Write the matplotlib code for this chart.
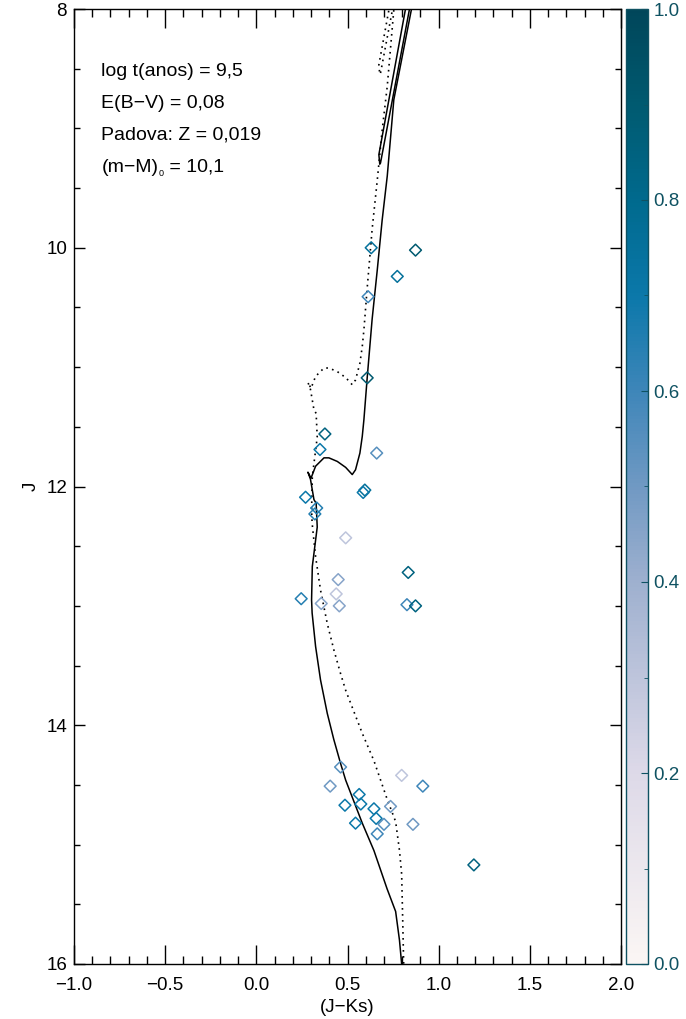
import numpy as np
import matplotlib
matplotlib.use("Agg")
import matplotlib.pyplot as plt
from matplotlib.colors import LinearSegmentedColormap, Normalize
from matplotlib.cm import ScalarMappable
from matplotlib.ticker import MultipleLocator, FormatStrFormatter
from matplotlib.transforms import offset_copy

plt.rcParams['font.family'] = ['Liberation Sans', 'DejaVu Sans']

# --- observed stars: colour (J-Ks), magnitude J, membership probability ---
star_jk = [0.630, 0.873, 0.773, 0.613, 0.608, 0.376, 0.349, 0.660,
           0.270, 0.331, 0.321, 0.595, 0.586, 0.490, 0.833, 0.449,
           0.438, 0.246, 0.356, 0.455, 0.826, 0.873, 0.462, 0.797,
           0.405, 0.913, 0.564, 0.573, 0.486, 0.645, 0.736, 0.657,
           0.700, 0.544, 0.859, 0.663, 1.193]
star_j = [10.00, 10.02, 10.24, 10.41, 11.09, 11.56, 11.69, 11.72,
          12.09, 12.18, 12.23, 12.03, 12.05, 12.43, 12.72, 12.78,
          12.90, 12.94, 12.98, 13.00, 12.99, 13.00, 14.35, 14.42,
          14.51, 14.51, 14.58, 14.66, 14.67, 14.70, 14.68, 14.78,
          14.83, 14.82, 14.83, 14.91, 15.17]
star_prob = [0.75, 0.90, 0.75, 0.60, 0.90, 0.85, 0.70, 0.55,
             0.70, 0.65, 0.65, 0.75, 0.70, 0.30, 0.85, 0.45,
             0.30, 0.65, 0.45, 0.45, 0.60, 0.85, 0.55, 0.30,
             0.50, 0.60, 0.70, 0.70, 0.70, 0.70, 0.50, 0.70,
             0.55, 0.70, 0.50, 0.60, 0.85]

# --- Padova isochrone, log t = 9.5, Z = 0.019 ---
# main sequence -> turn-off -> subgiant branch -> red giant branch
iso_jk = [0.808, 0.803, 0.797, 0.785, 0.764, 0.717, 0.645, 0.581,
          0.490, 0.462, 0.425, 0.389, 0.352, 0.325, 0.306, 0.303,
          0.307, 0.334, 0.328, 0.316, 0.297, 0.283, 0.300, 0.325,
          0.371, 0.398, 0.444, 0.490, 0.526, 0.544, 0.568, 0.581,
          0.590, 0.608, 0.635, 0.663, 0.690, 0.718, 0.754, 0.851,
          0.900]
iso_j = [16.75, 16.40, 16.00, 15.80, 15.56, 15.37, 15.05, 14.82,
         14.46, 14.32, 14.12, 13.90, 13.62, 13.34, 13.06, 12.95,
         12.67, 12.34, 12.14, 12.11, 11.94, 11.88, 11.93, 11.83,
         11.76, 11.76, 11.79, 11.84, 11.90, 11.86, 11.72, 11.58,
         11.44, 11.09, 10.60, 10.19, 9.77, 9.40, 8.76, 8.00,
         7.50]
# core He burning clump and asymptotic giant branch
hb_jk = [0.860, 0.818, 0.672, 0.677, 0.681, 0.840, 0.885]
hb_j = [7.50, 8.00, 9.22, 9.30, 9.29, 8.00, 7.60]

# equal-mass unresolved binaries sit 2.5 log10(2) mag brighter
binary_offset = 2.5 * np.log10(2.0)

annot_lines = ["log t(anos) = 9,5",
               "E(B\u2212V) = 0,08",
               "Padova: Z = 0,019",
               "(m\u2212M)"]
dist_subscript = "0"
dist_value = " = 10,1"

# membership colour scale
cmap = LinearSegmentedColormap.from_list(
    "memb",
    [(0.00, "#fbf6f4"), (0.20, "#ddd9e8"), (0.40, "#9eb0cf"),
     (0.50, "#7099c3"), (0.60, "#3e86b9"), (0.70, "#0b78aa"),
     (0.80, "#006a8e"), (0.90, "#005a70"), (1.00, "#00465a")])
norm = Normalize(0.0, 1.0)

W, H = 686, 1019
fig = plt.figure(figsize=(W / 100, H / 100), dpi=100)
ax_l, ax_r, ax_t, ax_b = 74, 621, 9, 964
ax = fig.add_axes([ax_l / W, (H - ax_b) / H, (ax_r - ax_l) / W, (ax_b - ax_t) / H])
cax = fig.add_axes([626 / W, (H - ax_b) / H, 22 / W, (ax_b - ax_t) / H])

iso_jk_a = np.array(iso_jk)
iso_j_a = np.array(iso_j)
hb_jk_a = np.array(hb_jk)
hb_j_a = np.array(hb_j)

ax.plot(iso_jk_a, iso_j_a, color="black", lw=1.1, zorder=2)
ax.plot(hb_jk_a, hb_j_a, color="black", lw=1.1, zorder=2)
dot_style = (0, (1.0, 2.6))
ax.plot(iso_jk_a, iso_j_a - binary_offset, color="black", lw=1.2,
        ls=dot_style, zorder=2)
ax.plot(hb_jk_a, hb_j_a - binary_offset, color="black", lw=1.2,
        ls=dot_style, zorder=2)

ax.scatter(star_jk, star_j, marker="D", s=36, facecolors="none",
           edgecolors=cmap(norm(np.array(star_prob))), linewidths=1.1,
           zorder=3)

ax.set_xlim(-1.0, 2.0)
ax.set_ylim(16.0, 8.0)
ax.xaxis.set_major_locator(MultipleLocator(0.5))
ax.xaxis.set_minor_locator(MultipleLocator(0.1))
ax.yaxis.set_major_locator(MultipleLocator(2))
ax.yaxis.set_minor_locator(MultipleLocator(0.5))
ax.tick_params(axis="both", which="both", direction="in", top=True,
               right=True, colors="black", labelsize=13.5, width=1.0)
ax.tick_params(axis="x", which="major", length=13.5, pad=9)
ax.tick_params(axis="x", which="minor", length=5.5)
ax.tick_params(axis="y", which="major", length=8, pad=5)
ax.tick_params(axis="y", which="minor", length=4.3)
for sp in ax.spines.values():
    sp.set_linewidth(1.0)
ax.set_xlabel("(J\u2212Ks)", fontsize=13.5, labelpad=4)
ax.set_ylabel("J", fontsize=13.5, labelpad=5)

text_size = 14
for i, txt in enumerate(annot_lines):
    t = ax.text(0.05, 0.935 - i * 0.0335, txt, transform=ax.transAxes,
                fontsize=text_size, ha="left", va="center")

# small subscript after (m-M), then the value
fig.canvas.draw()
renderer = fig.canvas.get_renderer()
bb = t.get_window_extent(renderer)
inv = ax.transAxes.inverted()
x_end, _ = inv.transform((bb.x1, bb.y0))
sub = ax.text(x_end, 0.935 - 3 * 0.0335, dist_subscript,
              transform=offset_copy(ax.transAxes, fig=fig, x=0.5, y=-4.5, units="points"),
              fontsize=6.5, ha="left", va="center")
bb2 = sub.get_window_extent(renderer)
x_end2, _ = inv.transform((bb2.x1, bb2.y0))
ax.text(x_end2, 0.935 - 3 * 0.0335, dist_value, transform=ax.transAxes,
        fontsize=text_size, ha="left", va="center")

teal = "#0f5262"
cb = fig.colorbar(ScalarMappable(norm=norm, cmap=cmap), cax=cax)
cb.outline.set_edgecolor(teal)
cb.outline.set_linewidth(1.0)
cb.set_ticks([0.0, 0.2, 0.4, 0.6, 0.8, 1.0])
cb.ax.yaxis.set_minor_locator(MultipleLocator(0.1))
cb.ax.tick_params(which="both", direction="in", colors=teal,
                  labelsize=13.5, pad=4)
cb.ax.tick_params(which="major", length=5)
cb.ax.tick_params(which="minor", length=3)
cb.ax.yaxis.set_major_formatter(FormatStrFormatter("%.1f"))

fig.savefig("out.png", dpi=100)
